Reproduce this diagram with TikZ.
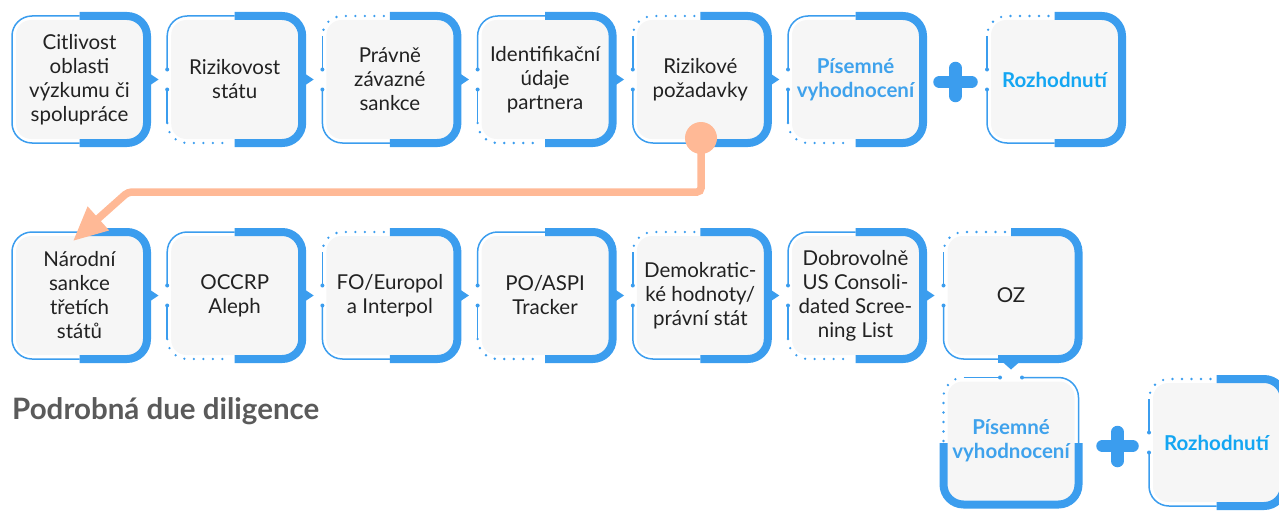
\documentclass[tikz,border=0pt]{standalone}
\usepackage{fontspec}
\setmainfont{Lato}
\usetikzlibrary{arrows.meta,calc}
\definecolor{bl}{HTML}{3B9DEE}
\definecolor{gbg}{HTML}{F6F6F6}
\definecolor{peach}{HTML}{FFB996}
\definecolor{txt}{HTML}{222222}
\definecolor{bltxt}{HTML}{3FA2EC}
\definecolor{cytxt}{HTML}{14A6F2}
\definecolor{ttl}{HTML}{5A5A5A}
\tikzset{
  gbox/.style={rounded corners=15, fill=gbg, minimum width=127, minimum height=119,
    align=center, inner sep=0pt, text=txt, font=\fontsize{20.5}{24}\selectfont},
  bluetext/.style={text=bltxt, font=\fontsize{20.5}{24}\selectfont\bfseries},
  cyantext/.style={text=cytxt, font=\fontsize{20.5}{24}\selectfont\bfseries},
  thinb/.style={draw=bl, line width=1.5pt},
  thickb/.style={draw=bl, line width=8pt},
  dotb/.style={draw=bl, line width=2.6pt, line cap=round, dash pattern=on 0pt off 9.5pt},
  plusb/.style={draw=bl, line width=12.5pt, line cap=round},
  peachline/.style={draw=peach, line width=7.5pt, rounded corners=4},
}
% thick right half
\newcommand\fthick[1]{\begin{scope}[shift={(#1.center)}]
  \draw[thickb,rounded corners=20] (0,-63.5) -- (67.5,-63.5) -- (67.5,63.5) -- (0,63.5);
\end{scope}}
\newcommand\fplain[1]{\begin{scope}[shift={(#1.center)}]
  \draw[thinb,rounded corners=20] (0,-63.5) -- (-67.5,-63.5) -- (-67.5,63.5) -- (0,63.5);
\end{scope}\fthick{#1}}
\newcommand\fbot[1]{\begin{scope}[shift={(#1.center)}]
  \draw[thinb,rounded corners=20] (0,-63.5) -- (-67.5,-63.5) -- (-67.5,-10);
  \draw[thinb] (-67.5,10) -- (-67.5,43.5);
  \draw[dotb,rounded corners=20] (-67.5,43.5) -- (-67.5,63.5) -- (-6,63.5);
  \fill[bl] (-67.5,-10) circle (2) (-67.5,10) circle (2);
\end{scope}\fthick{#1}}
\newcommand\ftop[1]{\begin{scope}[shift={(#1.center)}]
  \draw[dotb,rounded corners=20] (-6,-63.5) -- (-67.5,-63.5) -- (-67.5,-43.5);
  \draw[thinb] (-67.5,-43.5) -- (-67.5,-10);
  \draw[thinb,rounded corners=20] (-67.5,10) -- (-67.5,63.5) -- (0,63.5);
  \fill[bl] (-67.5,-10) circle (2) (-67.5,10) circle (2);
\end{scope}\fthick{#1}}
\newcommand\fptr[1]{\begin{scope}[shift={(#1.center)}]
  \fill[bl] (70,-6) -- (79,0) -- (70,6) -- cycle;
\end{scope}}
\newcommand\frot[1]{\begin{scope}[shift={(#1.center)}]
  \draw[thickb,rounded corners=20] (-67.5,2) -- (-67.5,63.5) -- (67.5,63.5) -- (67.5,2);
  \draw[dotb,rounded corners=20] (-67.5,0) -- (-67.5,-63.5) -- (-47.5,-63.5);
  \draw[thinb] (-47.5,-63.5) -- (-11,-63.5);
  \draw[thinb,rounded corners=20] (11,-63.5) -- (67.5,-63.5) -- (67.5,2);
  \fill[bl] (-11,-63.5) circle (2) (11,-63.5) circle (2);
\end{scope}}
\begin{document}
\begin{tikzpicture}[x=1pt,y=-1pt]
\useasboundingbox (0,0) rectangle (1279,511);
\clip (0,0) rectangle (1279,511);
% row 1
\node[gbox] (a1) at (79.5,79.5) {Citlivost\\oblasti\\výzkumu či\\spolupráce};
\node[gbox] (a2) at (234.7,79.5) {Rizikovost\\státu};
\node[gbox] (a3) at (389.9,79.5) {Právně\\závazné\\sankce};
\node[gbox] (a4) at (545.1,79.5) {Identifikační\\údaje\\partnera};
\node[gbox] (a5) at (700.3,79.5) {Rizikové\\požadavky};
\node[gbox,bluetext] (a6) at (855.5,79.5) {Písemné\\vyhodnocení};
\node[gbox,cyantext] (a7) at (1054.5,79.5) {Rozhodnutí};
\fplain{a1}\fptr{a1}
\fbot{a2}\fptr{a2}
\ftop{a3}\fptr{a3}
\fbot{a4}\fptr{a4}
\ftop{a5}\fptr{a5}
\fbot{a6}
\ftop{a7}
\draw[plusb] (939.5,82) -- (971.5,82);
\draw[plusb] (955.5,68) -- (955.5,96);
% row 2
\node[gbox] (b1) at (79.5,295.5) {Národní\\sankce\\třetích\\států};
\node[gbox] (b2) at (234.7,295.5) {OCCRP\\Aleph};
\node[gbox] (b3) at (389.9,295.5) {FO/Europol\\a Interpol};
\node[gbox] (b4) at (545.1,295.5) {PO/ASPI\\Tracker};
\node[gbox] (b5) at (700.3,295.5) {Demokratic-\\ké hodnoty/\\právní stát};
\node[gbox] (b6) at (855.5,295.5) {Dobrovolně\\US Consoli-\\dated Scree-\\ning List};
\node[gbox] (b7) at (1011,295.5) {OZ};
\fplain{b1}\fptr{b1}
\fbot{b2}\fptr{b2}
\ftop{b3}\fptr{b3}
\fbot{b4}\fptr{b4}
\ftop{b5}\fptr{b5}
\fbot{b6}\fptr{b6}
\ftop{b7}
\begin{scope}[shift={(b7.center)}]
  \draw[thickb] (2,63.5) -- (-13,63.5);
  \fill[bl] (-9,66) -- (0,74) -- (9,66) -- cycle;
\end{scope}
% row 3
\node[gbox,bluetext] (c1) at (1011,441) {Písemné\\vyhodnocení};
\node[gbox,cyantext] (c2) at (1216.5,442.5) {Rozhodnutí};
\frot{c1}
\ftop{c2}
\draw[plusb] (1102.5,446) -- (1132.5,446);
\draw[plusb] (1117.5,432) -- (1117.5,461);
% title
\node[anchor=west, inner sep=0pt, text=ttl, font=\fontsize{29.5}{32}\selectfont\bfseries] (t) at (12,411) {Podrobná due diligence};
% peach connector
\coordinate (ps) at ($(a5.center)+(0.7,58.5)$);
\coordinate (pb) at (128,192);
\coordinate (pt) at ($(b1.center)+(-6.5,-54.5)$);
\fill[peach] (ps) circle (16);
\draw[peachline, -{Triangle[length=34pt,width=30pt]}] (ps) |- (pb) -- (pt);
\end{tikzpicture}
\end{document}
